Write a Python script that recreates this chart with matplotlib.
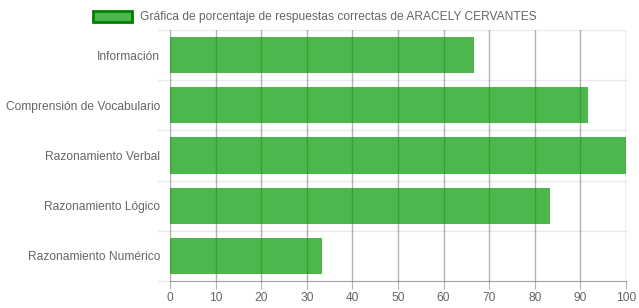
import numpy as np
import matplotlib.pyplot as plt
from matplotlib.patches import Patch

plt.rcParams['font.family'] = ['Liberation Sans', 'DejaVu Sans']

categories = ["Información", "Comprensión de Vocabulario", "Razonamiento Verbal",
              "Razonamiento Lógico", "Razonamiento Numérico"]
values = [66.7, 91.7, 100, 83.3, 33.3]
label = "Gráfica de porcentaje de respuestas correctas de ARACELY CERVANTES"

fig = plt.figure(figsize=(6.39, 3.08), dpi=100)
ax = fig.add_axes([170/639, 1-281/308, 456/639, 251/308])

y = np.arange(len(categories))
# vertical grid under translucent bars
for xv in range(0, 101, 10):
    ax.axvline(xv, color=(0, 0, 0, 0.3), lw=1, zorder=0)
# light horizontal lines between categories
for yb in np.arange(-0.5, len(categories), 1):
    ax.axhline(yb, xmin=-12/456, color=(0, 0, 0, 0.08), lw=1, zorder=0, clip_on=False)

ax.barh(y, values, height=0.72, color=(0, 0.6, 0, 0.7), zorder=1)

ax.set_xlim(0, 100)
ax.set_ylim(len(categories) - 0.5, -0.5)
ax.set_xticks(range(0, 101, 10))
ax.set_yticks(y)
ax.set_yticklabels(categories)
for s in ['top', 'right', 'left']:
    ax.spines[s].set_visible(False)
ax.spines['bottom'].set_color((0, 0, 0, 0.3))
ax.tick_params(axis='x', colors=(0, 0, 0, 0.3), length=6, labelcolor='#666666', labelsize=8.65, pad=2)
ax.tick_params(axis='y', length=0, labelcolor='#666666', labelsize=8.65, pad=7)

leg = fig.legend(handles=[Patch(facecolor=(0, 0.6, 0, 0.7), edgecolor='#008000', lw=2, label=label)],
                 loc='upper center', bbox_to_anchor=(0.492, 1.0), frameon=False, fontsize=8.65,
                 handlelength=3.3, handleheight=1.0, handletextpad=0.6)
for t in leg.get_texts():
    t.set_color('#666666')

fig.savefig('out.png', dpi=100)
